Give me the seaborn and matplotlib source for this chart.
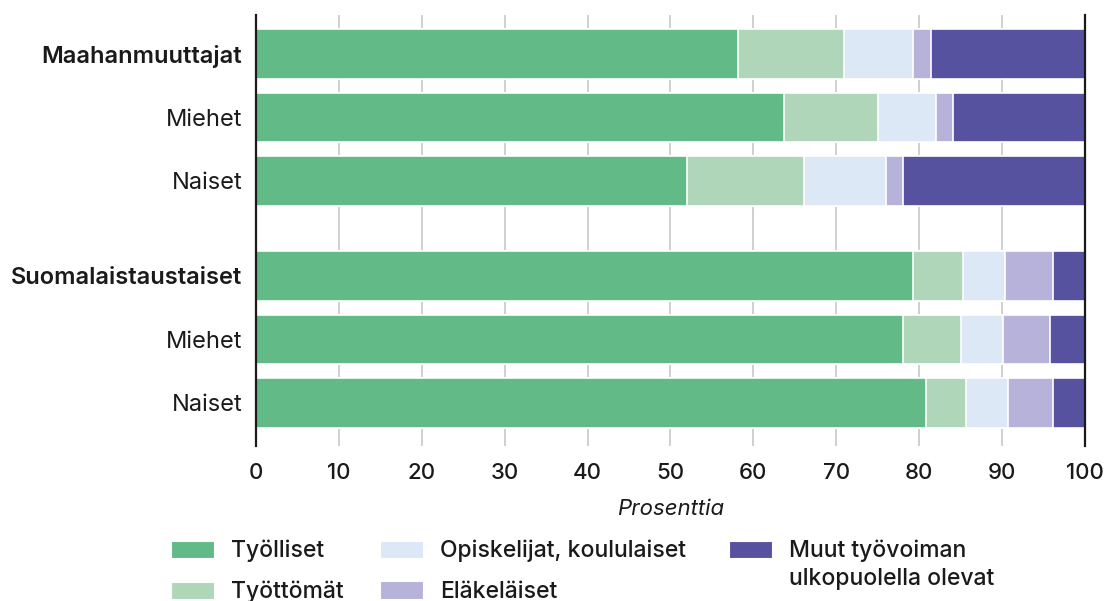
import numpy as np
import pandas as pd
import seaborn as sns
import matplotlib.pyplot as plt
from matplotlib.patches import Patch

groups = ['Maahanmuuttajat', 'Miehet', 'Naiset', 'Suomalaistaustaiset', 'Miehet', 'Naiset']
bold_rows = [0, 3]
positions = [0, 1, 2, 3.5, 4.5, 5.5]

segments = ['Työlliset', 'Työttömät', 'Opiskelijat, koululaiset', 'Eläkeläiset',
            'Muut työvoiman\nulkopuolella olevat']
tyolliset = [58.2, 63.7, 52.0, 79.3, 78.1, 80.8]
tyottomat = [12.7, 11.4, 14.1, 6.0, 6.9, 4.8]
opiskelijat = [8.4, 6.9, 9.9, 5.1, 5.1, 5.1]
elakelaiset = [2.1, 2.1, 2.1, 5.7, 5.7, 5.4]
muut = [18.6, 15.9, 21.9, 3.9, 4.2, 3.9]
colors = ['#62BA87', '#AFD6B9', '#DCE8F6', '#B7B2D9', '#57529F']

values = np.array([tyolliset, tyottomat, opiskelijat, elakelaiset, muut])
cum = values.cumsum(axis=0)

sns.set_style('white')
plt.rcParams['font.family'] = ['Inter', 'DejaVu Sans']
ink = '#1a1a1a'

fig = plt.figure(figsize=(11.07, 6.01), dpi=100)
ax = fig.add_axes([0.2313, 0.258, 0.7487, 0.717])

# stacked bars: draw totals from the right end first, each shorter one on top
for i in range(len(segments) - 1, -1, -1):
    df = pd.DataFrame({'x': cum[i], 'y': positions})
    sns.barplot(data=df, x='x', y='y', orient='h', native_scale=True,
                color=colors[i], width=0.78, edgecolor='white', linewidth=1.2,
                saturation=1, ax=ax, zorder=2)

ax.set_xlim(0, 100)
ax.set_ylim(6.18, -0.615)
ax.set_xticks(np.arange(0, 101, 10))
ax.set_xticklabels([str(v) for v in range(0, 101, 10)], fontsize=16, color=ink,
                   fontweight='medium')
ax.set_yticks(positions)
ax.set_yticklabels(groups, fontsize=17, color=ink)
for i, lab in enumerate(ax.get_yticklabels()):
    if i in bold_rows:
        lab.set_fontweight('semibold')
ax.tick_params(axis='y', length=0, pad=10)
ax.tick_params(axis='x', length=0, pad=12)
ax.set_xlabel('Prosenttia', fontsize=16, style='italic', color=ink, labelpad=12)
ax.set_ylabel('')

ax.grid(axis='x', color='#c8c8c8', linewidth=1.2, zorder=0)
ax.set_axisbelow(True)
for s in ['top', 'bottom']:
    ax.spines[s].set_visible(False)
for s in ['left', 'right']:
    ax.spines[s].set_visible(True)
    ax.spines[s].set_color(ink)
    ax.spines[s].set_linewidth(1.6)

# legend in three columns, placed one column at a time
W, H = 1107, 601
fs = 16.5
col_items = [[0, 1], [2, 3], [4]]
col_x = [171, 380, 729]
legs = []
for items, x in zip(col_items, col_x):
    handles = [Patch(facecolor=colors[k], edgecolor='white', linewidth=0.8) for k in items]
    labels = [segments[k].split('\n')[0] for k in items]
    leg = fig.legend(handles, labels, loc='upper left', bbox_to_anchor=(x / W, 1 - 540 / H),
                     frameon=False, prop={'size': fs, 'weight': 'medium'},
                     handlelength=1.88, handleheight=0.8, handletextpad=0.75,
                     labelspacing=0.8, borderaxespad=0, borderpad=0)
    for t in leg.get_texts():
        t.set_color(ink)
    legs.append(leg)

fig.canvas.draw()
first = legs[2].get_texts()[0].get_window_extent()
fig.text(first.x0 / W, (first.y0 - 28) / H, segments[4].split('\n')[1],
         fontsize=fs, fontweight='medium', color=ink, va='bottom', ha='left')

fig.savefig('out.png', dpi=100)
